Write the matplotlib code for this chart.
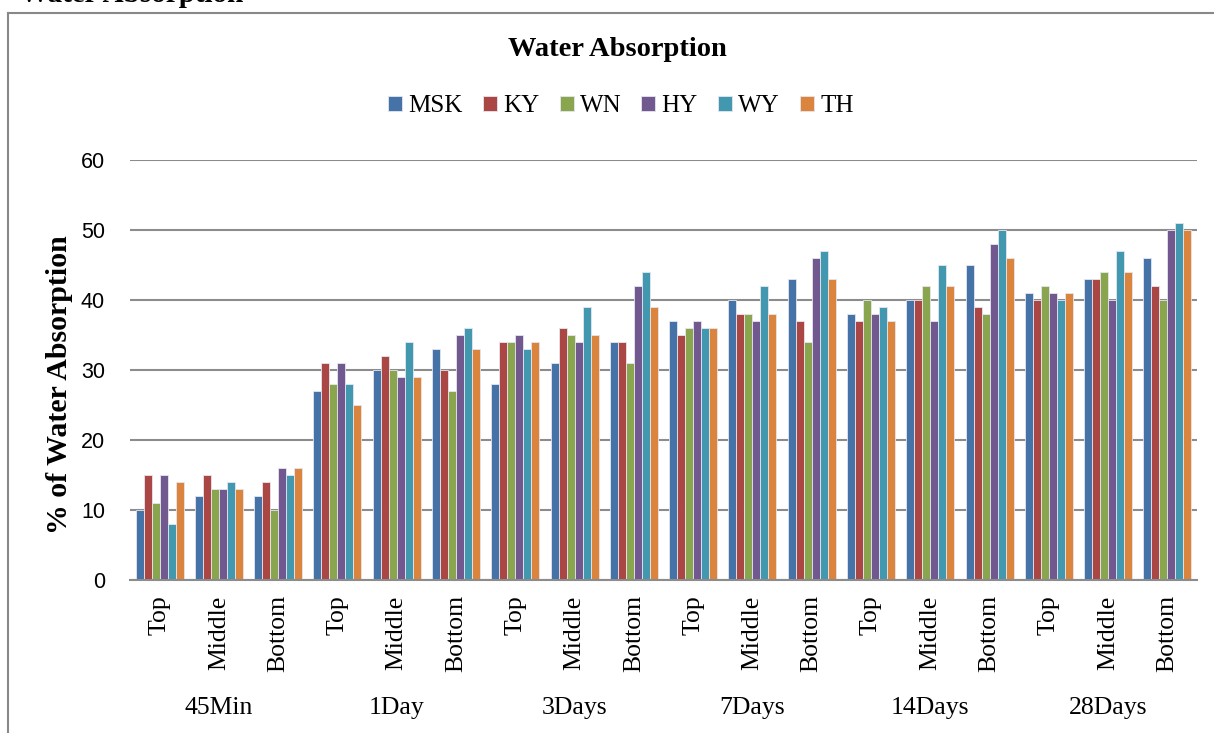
import numpy as np
import matplotlib.pyplot as plt
from matplotlib.lines import Line2D

# -- data ---------------------------------
groups = ['45Min', '1Day', '3Days', '7Days', '14Days', '28Days']
positions = ['Top', 'Middle', 'Bottom']
series = ['MSK', 'KY', 'WN', 'HY', 'WY', 'TH']

MSK = [10, 12, 12, 27, 30, 33, 28, 31, 34, 37, 40, 43, 38, 40, 45, 41, 43, 46]
KY = [15, 15, 14, 31, 32, 30, 34, 36, 34, 35, 38, 37, 37, 40, 39, 40, 43, 42]
WN = [11, 13, 10, 28, 30, 27, 34, 35, 31, 36, 38, 34, 40, 42, 38, 42, 44, 40]
HY = [15, 13, 16, 31, 29, 35, 35, 34, 42, 37, 37, 46, 38, 37, 48, 41, 40, 50]
WY = [8, 14, 15, 28, 34, 36, 33, 39, 44, 36, 42, 47, 39, 45, 50, 40, 47, 51]
TH = [14, 13, 16, 25, 29, 33, 34, 35, 39, 36, 38, 43, 37, 42, 46, 41, 44, 50]

colors = ['#4572A7', '#AA4643', '#89A54E', '#71588F', '#4198AF', '#DB843D']

W, H = 1214, 733
fig = plt.figure(figsize=(W / 100, H / 100), dpi=100)
ax = fig.add_axes([130 / W, 1 - 580 / H, (1197 - 130) / W, (580 - 160) / H])

serif = 'Liberation Serif'
sans = 'Liberation Sans'

x = np.arange(len(groups) * len(positions))
bw = 0.135
for i, (name, vals) in enumerate(zip(series, [MSK, KY, WN, HY, WY, TH])):
    off = (i - 2.5) * bw
    ax.bar(x + off, vals, width=bw, color=colors[i], edgecolor='#e6e6f0',
           linewidth=0.6, label=name, zorder=3)

ax.set_xlim(-0.5, len(x) - 0.5)
ax.set_ylim(0, 60)
ax.set_yticks(range(0, 61, 10))
ax.yaxis.grid(True, color='#8c8c8c', linewidth=1.5, zorder=0)
for s in ['top', 'right', 'left']:
    ax.spines[s].set_visible(False)
ax.spines['bottom'].set_color('#8c8c8c')
ax.spines['bottom'].set_linewidth(1.5)
ax.spines['bottom'].set_zorder(4)
ax.tick_params(axis='y', length=0, labelsize=15.5, pad=18)
ax.tick_params(axis='x', length=0, pad=11)
for lab in ax.get_yticklabels():
    lab.set_fontfamily(sans)

ax.set_xticks(x)
ax.set_xticklabels(positions * len(groups), rotation=90, fontsize=18.5,
                   fontfamily=serif, va='top')

# group labels
for g, name in enumerate(groups):
    ax.text(g * 3 + 1, -0.305, name, transform=ax.get_xaxis_transform(),
            ha='center', va='center', fontsize=18.5, fontfamily=serif)

fig.text(60 / W, 1 - 385 / H, '% of Water Absorption', rotation=90,
         ha='center', va='center', fontsize=21.5, fontweight='bold',
         fontfamily=serif)

fig.text(617 / W, 1 - 50 / H, 'Water Absorption', ha='center', va='center',
         fontsize=20.5, fontweight='bold', fontfamily=serif)

leg = fig.legend(loc='center', bbox_to_anchor=(621 / W, 1 - 106 / H),
                 ncol=6, frameon=False, handlelength=0.56, handleheight=0.56,
                 handletextpad=0.25, columnspacing=0.8, borderpad=0.2,
                 prop={'family': serif, 'size': 18})

# outer frame and cropped heading
fig.add_artist(Line2D([8 / W, 8 / W], [0, 1 - 13 / H], color='#888888', lw=1.5))
fig.add_artist(Line2D([8 / W, 1], [1 - 13 / H, 1 - 13 / H], color='#888888', lw=1.5))
fig.text(20 / W, 1 - 2 / H, 'Water Absorption', ha='left', va='baseline',
         fontsize=21, fontweight='bold', fontfamily=serif)

fig.savefig('out.png', dpi=100, facecolor='white')
